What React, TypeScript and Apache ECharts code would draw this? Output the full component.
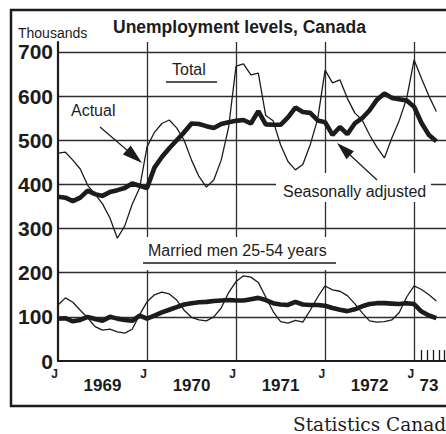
import React, { useEffect, useRef } from 'react';
import * as echarts from 'echarts';

// Month index 0 = January 1969
const totalActual = [
  471, 473, 455, 435, 398, 378, 356, 324, 278, 306, 355, 392,
  485, 518, 538, 546, 528, 500, 455, 418, 394, 410, 455, 530,
  668, 673, 648, 652, 556, 544, 490, 452, 433, 445, 490, 548,
  659, 630, 637, 595, 562, 546, 512, 484, 460, 505, 545, 595,
  682, 640, 600, 565,
];
const totalSA = [
  372, 370, 362, 370, 386, 378, 374, 383, 387, 392, 402, 397,
  392, 438, 462, 482, 500, 518, 538, 537, 532, 528, 537, 541,
  544, 546, 538, 566, 536, 535, 535, 552, 574, 564, 562, 545,
  541, 512, 530, 514, 538, 550, 568, 592, 606, 596, 593, 590,
  576, 539, 512, 498,
];
const marriedActual = [
  127, 143, 133, 115, 98, 78, 70, 72, 66, 63, 72, 105,
  134, 150, 156, 152, 138, 115, 99, 93, 91, 100, 120, 155,
  180, 193, 190, 178, 145, 112, 89, 86, 92, 88, 115, 145,
  170, 161, 158, 148, 130, 109, 91, 88, 89, 93, 110, 145,
  170, 162, 150, 136,
];
const marriedSA = [
  96, 97, 90, 93, 100, 95, 91, 100, 96, 93, 91, 103,
  96, 103, 110, 116, 122, 128, 131, 133, 134, 136, 137, 138,
  137, 137, 140, 143, 138, 131, 128, 127, 134, 128, 127, 127,
  125, 120, 116, 113, 117, 124, 129, 131, 131, 130, 129, 131,
  129, 112, 103, 97,
];
const yTicks = [0, 100, 200, 300, 400, 500, 600, 700];
const janTicks = [0, 12, 24, 36, 48];
const yearLabels = ['1969', '1970', '1971', '1972', '73'];
const yearPos = [6, 18, 30, 42, 50];
const hatchTicks = [49, 49.8, 50.6, 51.4, 52.1];

const toPts = (arr: number[]) => arr.map((v, i) => [i, v]);

export default function App() {
  const ref = useRef<HTMLDivElement>(null);
  useEffect(() => {
    const chart = echarts.init(ref.current!, null, { renderer: 'svg' });
    const ink = '#1c1c1c';
    const gridC = '#2e2e2e';
    const sans = '"Liberation Sans", Arial, sans-serif';
    const txt = (x: number, y: number, t: string, size: number, extra: any = {}) => ({
      type: 'text',
      x,
      y,
      z: 10,
      style: {
        text: t,
        fontSize: size,
        fontFamily: sans,
        fill: ink,
        verticalAlign: 'middle',
        ...extra,
      },
    });
    const line = (x1: number, y1: number, x2: number, y2: number, w: number) => ({
      type: 'line',
      z: 10,
      shape: { x1, y1, x2, y2 },
      style: { stroke: ink, lineWidth: w },
    });
    const thin = { width: 1.3, color: ink };
    const thick = { width: 4.6, color: ink };
    const mk = (data: number[], ls: any, z: number) => ({
      type: 'line',
      data: toPts(data),
      showSymbol: false,
      symbol: 'none',
      lineStyle: ls,
      itemStyle: { color: ink },
      z,
      silent: true,
    });
    chart.setOption({
      animation: false,
      backgroundColor: '#ffffff',
      grid: { left: 58, right: 0, top: 42, bottom: 73 },
      xAxis: [
        {
          type: 'value',
          min: 0,
          max: 52.3,
          interval: 12,
          position: 'bottom',
          axisLine: { show: true, onZero: false, lineStyle: { color: ink, width: 2.2 } },
          axisTick: { show: false },
          axisLabel: {
            customValues: janTicks,
            formatter: () => 'J',
            align: 'right',
            margin: 7,
            fontSize: 12,
            fontWeight: 'bold',
            fontFamily: sans,
            color: ink,
          },
          splitLine: { show: true, showMinLine: false, showMaxLine: false, lineStyle: { color: gridC, width: 1.3 } },
        },
        {
          type: 'value',
          min: 0,
          max: 52.3,
          position: 'bottom',
          axisLine: { show: false },
          axisTick: {
            show: true,
            inside: true,
            length: 11,
            customValues: hatchTicks,
            lineStyle: { color: ink, width: 1.3 },
          },
          splitLine: { show: false },
          axisLabel: {
            customValues: yearPos,
            formatter: (v: number) => {
              const i = yearPos.indexOf(v);
              return i >= 0 ? yearLabels[i] : '';
            },
            margin: 16,
            fontSize: 17,
            fontWeight: 'bold',
            fontFamily: sans,
            color: ink,
          },
        },
      ],
      yAxis: {
        type: 'value',
        min: 0,
        max: 722.6,
        interval: 100,
        axisLine: { show: true, lineStyle: { color: ink, width: 2.2 } },
        axisTick: { show: false },
        axisLabel: {
          customValues: yTicks,
          formatter: (v: number) => (v > 700 ? '' : String(v)),
          margin: 5,
          fontSize: 21,
          fontWeight: 'bold',
          fontFamily: sans,
          color: ink,
        },
        splitLine: { show: true, showMinLine: false, showMaxLine: false, lineStyle: { color: gridC, width: 1.3 } },
      },
      series: [
        mk(totalActual, thin, 3),
        mk(totalSA, thick, 4),
        mk(marriedActual, thin, 3),
        mk(marriedSA, thick, 4),
      ],
      graphic: [
        {
          type: 'rect',
          z: 10,
          shape: { x: 11, y: 10, width: 480, height: 396 },
          style: { fill: 'none', stroke: ink, lineWidth: 2.5 },
        },
        { type: 'rect', z: 1, shape: { x: 276, y: 173, width: 155, height: 29 }, style: { fill: '#ffffff' } },
        { type: 'rect', z: 1, shape: { x: 140, y: 237, width: 200, height: 33 }, style: { fill: '#ffffff' } },
        txt(113, 27, 'Unemployment levels, Canada', 17.5, { fontWeight: 'bold' }),
        txt(18, 33, 'Thousands', 14),
        txt(172, 69, 'Total', 16),
        line(166, 82, 217, 82, 1.5),
        txt(71, 110, 'Actual', 16),
        txt(283, 191, 'Seasonally adjusted', 16),
        txt(148, 250, 'Married men 25-54 years', 16),
        line(143, 263, 336, 263, 1.5),
        txt(293, 424, 'Statistics Canada', 18.5, { fontFamily: '"DejaVu Serif", serif' }),
        line(100, 127, 128, 151, 1.2),
        {
          type: 'polygon',
          z: 10,
          shape: { points: [[142, 163], [122.9, 154.6], [130.7, 145.4]] },
          style: { fill: ink },
        },
        line(377, 180, 349, 154, 1.2),
        {
          type: 'polygon',
          z: 10,
          shape: { points: [[337, 143], [353.9, 151.2], [346.5, 159.2]] },
          style: { fill: ink },
        },
      ],
    });
    return () => chart.dispose();
  }, []);
  return (
    <div
      ref={ref}
      style={{ position: 'absolute', left: 0, top: 0, width: 446, height: 434 }}
    />
  );
}
